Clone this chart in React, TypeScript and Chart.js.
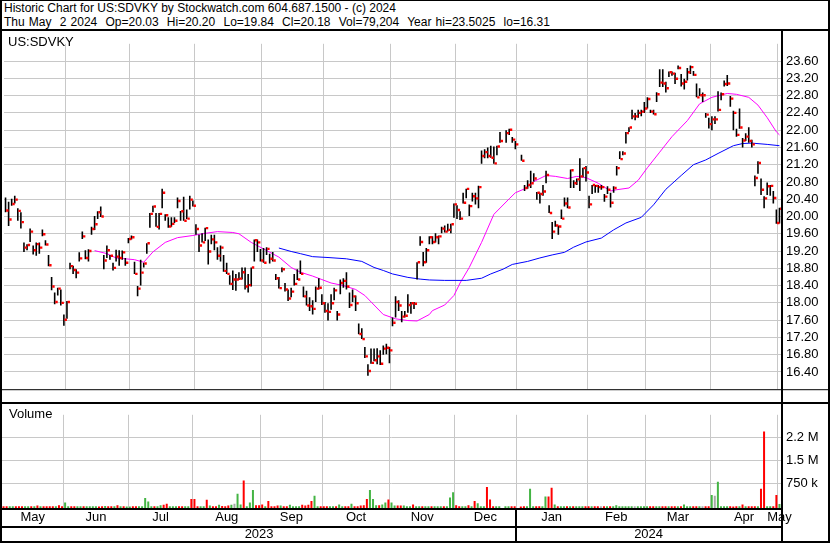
import React, { useEffect, useRef } from "react";
import { Chart, registerables } from "chart.js";

Chart.register(...registerables);

const FONT = "'Liberation Sans', Arial, Helvetica, sans-serif";
const GRID = "#c8c8c8";
const RED = "#ff0000";
const GREEN = "#44b444";
const GRAY = "#a8a8a8";

// ---- daily prices (one entry per trading day, null = no trade) ----
const highs: (number | null)[] = [
  20.44, 20.34, 20.41, 20.48, 20.19, 20.10, 19.40, 19.36, 19.72, 19.33,
  19.40, 19.40, 19.70, 19.45, 19.11, 18.60, 18.24, 18.35, 18.31, 17.73,
  18.04, 18.93, 18.86, 18.78, 19.17, 19.65, 19.22, 19.24, 19.76, 20.01,
  20.12, 20.23, 19.11, 19.33, 19.11, 18.93, 19.23, 19.22, 19.21, 19.04,
  19.50, 19.56, 18.95, 18.39, 19.00, 18.93, 19.38, 20.08, 20.25, 20.08,
  20.08, 20.64, 20.05, 19.98, 19.98, 19.98, 20.44, 20.13, 20.46, 20.16,
  20.48, 20.37, 19.82, 19.58, 19.61, 19.74, 19.47, 19.58, 19.58, 19.29,
  19.33, 19.11, 18.93, 18.64, 18.75, 18.67, 18.71, 18.82, 18.82, 18.67,
  18.82, 19.47, 19.47, 19.25, 19.27, 19.29, 19.14, 19.18, 18.67, 18.60,
  18.82, 18.46, 18.31, 18.35, 18.67, 18.78, 18.98, 18.38, 18.28, 18.13,
  18.06, 18.38, 18.57, 18.20, 18.02, 17.99, 18.20, 18.35, 17.81, 18.54,
  18.57, 18.71, 18.24, 18.31, 18.17, 17.52, 17.41, 16.98, 16.58, 16.94,
  16.94, 16.95, 16.90, 17.01, 17.05, 16.98, 17.66, 18.15, 18.06, 17.81,
  17.81, 18.20, 18.02, 18.02, 18.94, 19.54, 19.18, 19.27, 19.54, 19.54,
  19.61, 19.56, 19.76, 19.79, 19.83, 19.83, 20.30, 20.26, 20.12, 20.55,
  20.64, 20.28, 20.55, 20.55, 20.71, 21.53, 21.56, 21.60, 21.64, 21.62,
  21.64, 21.96, null, 22.00, 22.03, 21.84, 21.75, null, 21.43, 20.73,
  20.84, 21.06, 21.00, 20.57, 20.55, 20.73, 21.06, 20.26, 19.87, 19.90,
  19.79, 20.16, 20.44, 20.44, 21.09, 20.84, 20.88, 21.35, 21.13, 21.17,
  20.48, 20.73, 20.73, 20.73, 20.73, 20.52, 20.70, 20.55, 20.70, 21.17,
  21.51, 21.51, 21.96, 22.07, 22.47, 22.40, 22.47, 22.47, 22.65, 22.76,
  22.47, 22.47, 22.88, 23.41, 23.41, 23.12, 23.36, 23.36, 23.33, 23.50,
  23.30, 23.19, 23.44, 23.50, 23.37, 23.08, 22.97, 22.87, 22.40, 22.29,
  22.32, 22.32, 22.90, 22.87, 23.15, 23.28, 22.79, 22.45, 22.03, 22.50,
  21.82, 21.93, 22.07, 21.78, 20.95, 21.28, 20.88, 20.47, 20.79, 20.73,
  20.59, 20.16, 20.20,
];

const lows: (number | null)[] = [
  20.10, 19.78, 20.25, 20.30, 19.90, 19.72, 19.18, 19.22, 19.41, 19.12,
  19.09, 19.14, 19.54, 19.33, 18.85, 18.29, 17.97, 18.17, 17.94, 17.47,
  17.63, 18.78, 18.67, 18.57, 18.96, 19.48, 19.01, 18.96, 19.58, 19.69,
  19.94, 19.99, 18.78, 19.04, 19.00, 18.75, 18.96, 18.86, 19.00, 18.86,
  19.38, 19.47, 18.67, 18.15, 18.40, 18.82, 19.14, 19.74, 20.10, 19.76,
  19.70, 20.19, 19.90, 19.74, 19.76, 19.85, 20.19, 19.90, 19.90, 19.94,
  20.16, 20.23, 19.58, 19.18, 19.40, 19.43, 18.89, 19.36, 19.22, 19.00,
  18.96, 18.72, 18.67, 18.42, 18.30, 18.28, 18.53, 18.54, 18.31, 18.24,
  18.38, 18.96, 19.18, 18.96, 18.93, 19.11, 18.91, 18.96, 18.53, 18.33,
  18.71, 18.26, 18.04, 18.13, 18.40, 18.53, 18.67, 18.13, 17.94, 17.81,
  17.73, 18.02, 18.31, 17.95, 17.77, 17.59, 17.84, 18.06, 17.59, 18.20,
  18.35, 18.31, 17.88, 18.02, 17.81, 17.27, 17.16, 16.72, 16.31, 16.59,
  16.65, 16.58, 16.56, 16.80, 16.81, 16.60, 17.46, 17.66, 17.81, 17.55,
  17.66, 17.77, 17.75, 17.86, 18.54, 19.32, 18.85, 18.93, 19.36, 19.36,
  19.40, 19.36, 19.61, 19.63, 19.65, 19.61, 19.97, 19.94, 19.92, 20.30,
  20.42, 20.01, 20.35, 20.28, 20.19, 21.22, 21.35, 21.35, 21.36, 21.22,
  21.42, 21.71, null, 21.71, 21.89, 21.71, 21.56, null, 21.29, 20.59,
  20.64, 20.66, 20.81, 20.39, 20.30, 20.48, 20.77, 20.08, 19.48, 19.76,
  19.58, 19.94, 20.23, 20.19, 20.66, 20.66, 20.73, 20.59, 20.91, 20.81,
  20.19, 20.52, 20.55, 20.55, 20.62, 20.34, 20.52, 20.21, 20.55, 20.95,
  21.33, 21.42, 21.69, 21.96, 22.25, 22.23, 22.29, 22.32, 22.40, 22.50,
  22.40, 22.36, 22.65, 23.00, 23.00, 22.87, 23.23, 23.26, 23.07, 23.41,
  23.01, 22.94, 23.15, 23.30, 23.26, 22.76, 22.79, 22.65, 22.29, 22.04,
  22.00, 22.14, 22.43, 22.69, 23.01, 23.02, 22.54, 22.00, 21.85, 22.03,
  21.60, 21.75, 21.71, 21.60, 20.70, 20.99, 20.50, 20.19, 20.50, 20.48,
  20.30, 19.83, 19.84,
];

const closes: (number | null)[] = [
  20.14, 19.93, 20.29, 20.39, 20.13, 19.87, 19.28, 19.34, 19.65, 19.22,
  19.36, 19.28, 19.59, 19.35, 18.87, 18.38, 18.02, 18.33, 18.00, 17.61,
  18.02, 18.85, 18.76, 18.70, 19.03, 19.54, 19.04, 19.20, 19.71, 19.82,
  20.10, 20.00, 18.98, 19.22, 19.09, 18.81, 19.07, 19.04, 19.17, 18.93,
  19.48, 19.52, 18.67, 18.33, 18.70, 18.91, 19.38, 20.06, 20.23, 19.76,
  20.06, 20.55, 20.03, 19.77, 19.83, 19.90, 20.36, 20.12, 19.90, 19.95,
  20.39, 20.25, 19.71, 19.33, 19.40, 19.73, 19.19, 19.47, 19.40, 19.09,
  19.28, 18.74, 18.67, 18.44, 18.54, 18.54, 18.56, 18.71, 18.38, 18.41,
  18.82, 19.45, 19.40, 18.98, 18.93, 19.25, 19.02, 18.98, 18.57, 18.34,
  18.78, 18.31, 18.10, 18.26, 18.44, 18.54, 18.67, 18.15, 17.94, 17.92,
  17.86, 18.33, 18.35, 17.99, 17.81, 17.79, 17.99, 18.29, 17.73, 18.46,
  18.51, 18.38, 17.95, 18.15, 17.99, 17.28, 17.16, 16.76, 16.42, 16.61,
  16.67, 16.76, 16.59, 16.94, 16.96, 16.90, 17.54, 18.02, 17.94, 17.68,
  17.70, 17.95, 17.99, 17.98, 18.94, 19.41, 18.94, 19.22, 19.52, 19.41,
  19.52, 19.54, 19.72, 19.65, 19.69, 19.82, 20.28, 20.15, 19.95, 20.32,
  20.64, 20.24, 20.47, 20.42, 20.68, 21.40, 21.49, 21.40, 21.36, 21.23,
  21.62, 21.75, null, 21.93, 22.01, 21.78, 21.67, null, 21.29, 20.66,
  20.73, 20.77, 20.88, 20.55, 20.52, 20.58, 20.96, 20.08, 19.65, 19.79,
  19.77, 19.95, 20.30, 20.21, 21.07, 20.77, 20.86, 20.93, 21.12, 21.02,
  20.28, 20.73, 20.71, 20.68, 20.68, 20.46, 20.62, 20.32, 20.66, 21.12,
  21.33, 21.46, 21.93, 22.06, 22.32, 22.32, 22.40, 22.43, 22.50, 22.72,
  22.43, 22.37, 22.83, 23.10, 23.08, 22.97, 23.34, 23.31, 23.19, 23.44,
  23.08, 23.12, 23.34, 23.46, 23.28, 22.76, 22.81, 22.81, 22.36, 22.14,
  22.25, 22.25, 22.47, 22.83, 23.07, 23.08, 22.73, 22.40, 21.89, 22.06,
  21.76, 21.85, 21.75, 21.67, 20.89, 21.24, 20.62, 20.42, 20.70, 20.71,
  20.43, 19.85, 20.18,
];

const volumes: (number | null)[] = [
  5000, 4000, 4000, 5000, 10000, 10000, 5000, 5000, 5000, 5000,
  5000, 28000, 5000, 4000, 5000, 5000, 5000, 10000, 37000, 8000,
  132000, 5000, 5000, 8000, 5000, 5000, 5000, 6000, 10000, 10000,
  5000, 3000, 5000, 12000, 5000, 5000, 5000, 37000, 5000, 4000,
  2000, 2000, 7000, 5000, 5000, 9000, 276000, 161000, 4000, 5000,
  10000, 37000, 57000, 86000, 5000, 5000, 4000, 4000, 10000, 10000,
  5000, 247000, 247000, 5000, 4000, 10000, 219000, 28000, 10000, 10000,
  57000, 12000, 10000, 28000, 57000, 86000, 420000, 66000, 852000, 5000,
  132000, 535000, 37000, 37000, 66000, 10000, 181000, 10000, 10000, 28000,
  28000, 5000, 10000, 57000, 10000, 10000, 5000, 57000, 28000, 57000,
  181000, 354000, 5000, 10000, 10000, 10000, 10000, 10000, 10000, 66000,
  5000, 10000, 5000, 86000, 10000, 5000, 28000, 37000, 247000, 535000,
  247000, 37000, 37000, 66000, 132000, 230000, 132000, 28000, 28000, 28000,
  28000, 10000, 5000, 66000, 10000, 5000, 5000, 5000, 5000, 4000,
  8000, 5000, 5000, 4000, 5000, 296000, 469000, 37000, 5000, 5000,
  5000, 37000, 5000, 181000, 104000, 10000, 4000, 641000, 230000, 10000,
  5000, 5000, null, 4000, 4000, 4000, 4000, null, 3000, 4000,
  5000, 584000, 5000, 5000, 5000, 10000, 325000, 325000, 613000, 66000,
  5000, 4000, 10000, 5000, 5000, 5000, 5000, 5000, 5000, 10000,
  5000, 5000, 10000, 5000, 10000, 10000, 10000, 10000, 10000, 37000,
  10000, 10000, 5000, 5000, 10000, 10000, 5000, 5000, 10000, 10000,
  5000, 5000, 5000, 5000, 10000, 5000, 5000, 5000, 5000, 5000,
  10000, 66000, 10000, 5000, 5000, 5000, 5000, 5000, 5000, 5000,
  374000, 354000, 805000, 4000, 4000, 4000, 4000, 2000, 4000, 4000,
  66000, 5000, 5000, 5000, 5000, 5000, 584000, 2455000, 10000, 10000,
  5000, 374000, 79204,
];

// ---- moving averages (day index, value) ----
const ma30Idx = [29, 33, 36, 42, 45, 48, 52, 56, 61, 65, 69, 74, 76, 80, 84, 89, 93, 96, 100, 103, 106, 110, 114, 117, 120, 123, 127, 131, 134, 138, 139, 143, 146, 148, 151, 155, 159, 164, 166, 169, 172, 176, 179, 183, 186, 189, 193, 197, 199, 203, 206, 209, 213, 217, 222, 226, 230, 235, 238, 242, 245, 248, 251, 252];
const ma30Val = [19.21, 19.14, 19.04, 19.0, 18.94, 19.18, 19.4, 19.51, 19.56, 19.61, 19.65, 19.63, 19.6, 19.4, 19.25, 19.06, 18.82, 18.71, 18.62, 18.54, 18.46, 18.4, 18.31, 18.17, 17.95, 17.73, 17.63, 17.59, 17.58, 17.73, 17.82, 17.95, 18.17, 18.46, 18.82, 19.4, 20.05, 20.41, 20.55, 20.64, 20.81, 20.95, 20.93, 20.88, 20.93, 20.9, 20.77, 20.59, 20.62, 20.66, 20.84, 21.13, 21.49, 21.85, 22.22, 22.61, 22.76, 22.85, 22.83, 22.76, 22.58, 22.29, 21.96, 21.89];
const ma90Idx = [89, 93, 96, 100, 105, 111, 116, 120, 123, 126, 131, 135, 138, 143, 150, 155, 158, 162, 165, 170, 174, 178, 182, 185, 189, 194, 198, 202, 207, 211, 215, 220, 224, 228, 232, 237, 240, 243, 248, 252];
const ma90Val = [19.27, 19.19, 19.14, 19.07, 19.05, 19.02, 18.96, 18.82, 18.75, 18.67, 18.59, 18.55, 18.53, 18.52, 18.52, 18.57, 18.67, 18.78, 18.89, 18.96, 19.04, 19.11, 19.17, 19.29, 19.41, 19.5, 19.69, 19.85, 19.98, 20.27, 20.63, 20.95, 21.2, 21.31, 21.46, 21.64, 21.69, 21.7, 21.67, 21.64];

// ---- axes ----
const monthStarts = [0, 20, 41, 62, 84, 104, 126, 147, 167, 190, 209, 230, 252];
const monthLabels = ["May", "Jun", "Jul", "Aug", "Sep", "Oct", "Nov", "Dec", "Jan", "Feb", "Mar", "Apr", "May"];
const yearStarts = [0, 167];
const yearLabels = ["2023", "2024"];
const priceTicks = [16.4, 16.8, 17.2, 17.6, 18.0, 18.4, 18.8, 19.2, 19.6, 20.0, 20.4, 20.8, 21.2, 21.6, 22.0, 22.4, 22.8, 23.2, 23.6];
const volumeTicks = [750000, 1500000, 2250000];
const volumeTickLabels = ["750 k", "1.5 M", "2.2 M"];
const PRICE_MIN = 16;
const PRICE_MAX = 24;
const VOL_MIN = -50000;
const VOL_MAX = 3000000;

const header1 = "Historic Chart for US:SDVKY by Stockwatch.com 604.687.1500 - (c) 2024";
const header2 = "Thu May  2 2024  Op=20.03  Hi=20.20  Lo=19.84  Cl=20.18  Vol=79,204  Year hi=23.5025  lo=16.31";

export default function App() {
  const priceRef = useRef<HTMLCanvasElement>(null);
  const volRef = useRef<HTMLCanvasElement>(null);

  useEffect(() => {
    const N = closes.length;
    const xMin = -0.5;
    const xMax = N - 0.5;
    const boundaries = monthStarts.slice(1).map((s) => s - 0.5);
    const ends = monthStarts.slice(1).concat([N]);
    const monthCenters = monthStarts.map((s, k) => (s - 0.5 + ends[k] - 0.5) / 2);
    const yEnds = yearStarts.slice(1).concat([N]);
    const yearCenters = yearStarts.map((s, k) => (s - 0.5 + yEnds[k] - 0.5) / 2);
    const yearSplit = yearStarts[1] - 0.5;

    const hl: any[] = [];
    const cl: any[] = [];
    for (let i = 0; i < N; i++) {
      if (highs[i] == null || lows[i] == null || closes[i] == null) continue;
      hl.push({ x: i, y: [lows[i], highs[i]] });
      cl.push({ x: i + 0.6, y: closes[i] });
    }
    const ma30 = ma30Idx.map((x, k) => ({ x, y: ma30Val[k] }));
    const ma90 = ma90Idx.map((x, k) => ({ x, y: ma90Val[k] }));

    const vData: any[] = [];
    const vColors: string[] = [];
    let prev: number | null = null;
    for (let i = 0; i < N; i++) {
      const c = closes[i];
      const v = volumes[i];
      let col = RED;
      if (c != null && prev != null) col = c > prev ? GREEN : c < prev ? RED : GRAY;
      if (c != null) prev = c;
      if (v == null) continue;
      vData.push({ x: i, y: v });
      vColors.push(col);
    }

    const tickFont = { family: FONT, size: 13 };

    const frameA = {
      id: "frameA",
      afterDraw(chart: any) {
        const { ctx, chartArea } = chart;
        ctx.save();
        ctx.fillStyle = "#000";
        ctx.fillRect(0, 0, 2, chart.height);
        ctx.fillRect(chartArea.right, 0, 2, chart.height);
        ctx.fillRect(chart.width - 2, 0, 2, chart.height);
        ctx.fillRect(0, chartArea.bottom, chart.width, 1);
        ctx.restore();
      },
    };

    const frameB = {
      id: "frameB",
      afterDraw(chart: any) {
        const { ctx, chartArea } = chart;
        const xs = chart.scales.x;
        const b = chartArea.bottom;
        ctx.save();
        ctx.fillStyle = "#000";
        ctx.fillRect(0, 0, chart.width, 2);
        ctx.fillRect(0, 0, 2, chart.height);
        ctx.fillRect(chartArea.right, 0, 2, chart.height);
        ctx.fillRect(chart.width - 2, 0, 2, chart.height);
        ctx.fillRect(0, b, chartArea.right, 2);
        ctx.fillRect(0, b + 18, chartArea.right, 2);
        ctx.fillRect(Math.round(xs.getPixelForValue(yearSplit)) - 1, b, 2, chart.height - b);
        ctx.fillRect(0, chart.height - 2, chart.width, 2);
        ctx.restore();
      },
    };

    const priceChart = new Chart(priceRef.current as HTMLCanvasElement, {
      type: "bar",
      data: {
        datasets: [
          { type: "line", data: ma30, borderColor: "#ff00ff", borderWidth: 1, pointRadius: 0, tension: 0, order: 4 } as any,
          { type: "line", data: ma90, borderColor: "#0000ff", borderWidth: 1, pointRadius: 0, tension: 0, order: 3 } as any,
          { type: "bar", data: hl, backgroundColor: "#000000", barThickness: 1.6, inflateAmount: 0, grouped: false, order: 2 } as any,
          {
            type: "line", data: cl, showLine: false, pointStyle: "rect", pointRadius: 1.7,
            pointBackgroundColor: RED, pointBorderWidth: 0, borderWidth: 0, order: 1,
          } as any,
        ],
      },
      options: {
        responsive: false,
        animation: false,
        events: [],
        layout: { padding: { left: 2, right: 0, top: 0, bottom: 0 } },
        plugins: { legend: { display: false }, tooltip: { enabled: false } },
        scales: {
          x: {
            type: "linear", min: xMin, max: xMax, offset: false,
            ticks: { display: false },
            grid: { color: GRID, lineWidth: 1, drawTicks: false, offset: false },
            border: { display: false },
            afterBuildTicks: (s: any) => { s.ticks = boundaries.map((v) => ({ value: v })); },
            afterFit: (s: any) => { s.height = 2; },
          },
          y: {
            position: "right", min: PRICE_MIN, max: PRICE_MAX, beginAtZero: false,
            afterBuildTicks: (s: any) => { s.ticks = priceTicks.map((v) => ({ value: v })); },
            ticks: { autoSkip: false, font: tickFont, color: "#000", padding: 5, callback: (v: any) => Number(v).toFixed(2) },
            grid: { color: GRID, lineWidth: 1, drawTicks: false },
            border: { display: false },
            afterFit: (s: any) => { s.width = 49; },
          },
        },
      } as any,
      plugins: [frameA],
    });

    const volChart = new Chart(volRef.current as HTMLCanvasElement, {
      type: "bar",
      data: {
        datasets: [
          { type: "bar", data: vData, backgroundColor: vColors, barThickness: 2, inflateAmount: 0, grouped: false, base: VOL_MIN, xAxisID: "x", yAxisID: "yv" } as any,
        ],
      },
      options: {
        responsive: false,
        animation: false,
        events: [],
        layout: { padding: { left: 2, right: 0, top: 0, bottom: 0 } },
        plugins: { legend: { display: false }, tooltip: { enabled: false } },
        scales: {
          x: {
            type: "linear", position: "bottom", weight: 0, min: xMin, max: xMax, offset: false,
            ticks: { display: false },
            grid: { color: GRID, lineWidth: 1, drawTicks: false, offset: false },
            border: { display: false },
            afterBuildTicks: (s: any) => { s.ticks = boundaries.map((v) => ({ value: v })); },
            afterFit: (s: any) => { s.height = 0; },
          },
          xm: {
            type: "linear", position: "bottom", weight: 1, min: xMin, max: xMax, offset: false,
            grid: { display: false, drawTicks: false },
            border: { display: false },
            ticks: { autoSkip: false, maxRotation: 0, font: tickFont, color: "#000", padding: 2, callback: (_v: any, i: number) => monthLabels[i] },
            afterBuildTicks: (s: any) => { s.ticks = monthCenters.map((v) => ({ value: v })); },
            afterFit: (s: any) => { s.height = 18; },
          },
          xy: {
            type: "linear", position: "bottom", weight: 2, min: xMin, max: xMax, offset: false,
            grid: { display: false, drawTicks: false },
            border: { display: false },
            ticks: { autoSkip: false, maxRotation: 0, font: tickFont, color: "#000", padding: 1, callback: (_v: any, i: number) => yearLabels[i] },
            afterBuildTicks: (s: any) => { s.ticks = yearCenters.map((v) => ({ value: v })); },
            afterFit: (s: any) => { s.height = 17; },
          },
          yv: {
            position: "right", min: VOL_MIN, max: VOL_MAX, beginAtZero: false,
            afterBuildTicks: (s: any) => { s.ticks = volumeTicks.map((v) => ({ value: v })); },
            ticks: { autoSkip: false, font: tickFont, color: "#000", padding: 5, callback: (_v: any, i: number) => volumeTickLabels[i] },
            grid: { color: GRID, lineWidth: 1, drawTicks: false },
            border: { display: false },
            afterFit: (s: any) => { s.width = 49; },
          },
        },
      } as any,
      plugins: [frameB],
    });

    return () => {
      priceChart.destroy();
      volChart.destroy();
    };
  }, []);

  const labelStyle: React.CSSProperties = {
    position: "absolute", fontFamily: FONT, fontSize: 13, lineHeight: "15px", color: "#000", whiteSpace: "pre",
  };

  return (
    <div style={{ position: "absolute", left: 0, top: 0, width: 830, height: 543, background: "#fff", overflow: "hidden" }}>
      <div
        style={{
          position: "absolute", left: 0, top: 0, width: 830, height: 31, boxSizing: "border-box",
          borderTop: "1px solid #000", borderLeft: "2px solid #000", borderRight: "2px solid #000", borderBottom: "2px solid #000",
          paddingLeft: 2, fontFamily: FONT, fontSize: 12, lineHeight: "14px", color: "#000", whiteSpace: "pre",
        }}
      >
        <div>{header1}</div>
        <div style={{ wordSpacing: "0.8px" }}>{header2}</div>
      </div>
      <canvas ref={priceRef} width={830} height={371} style={{ position: "absolute", left: 0, top: 31 }} />
      <canvas ref={volRef} width={830} height={141} style={{ position: "absolute", left: 0, top: 402 }} />
      <div style={{ ...labelStyle, left: 8, top: 34 }}>US:SDVKY</div>
      <div style={{ ...labelStyle, left: 9, top: 406 }}>Volume</div>
    </div>
  );
}
